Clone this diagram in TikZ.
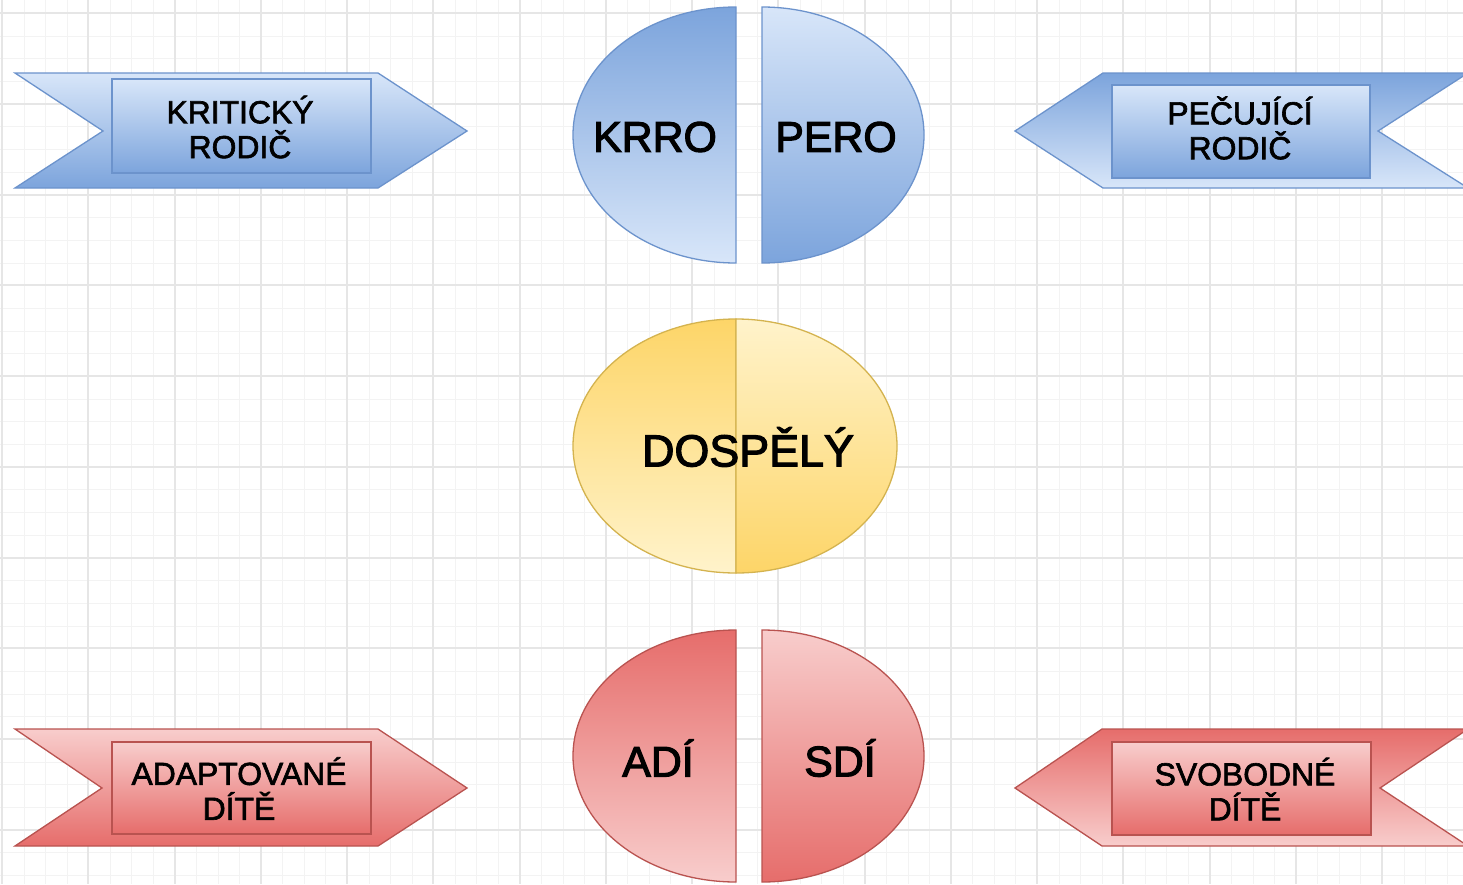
\documentclass[tikz,border=0pt]{standalone}
\usepackage{fontspec}
\setmainfont{Liberation Sans}
\newfontfamily\heavyfont{Liberation Sans}[FakeBold=2]
\newfontfamily\heavierfont{Liberation Sans}[FakeBold=2.6]
\definecolor{bluL}{HTML}{D8E6F9}
\definecolor{bluD}{HTML}{7CA4DC}
\definecolor{bluB}{HTML}{6C93CC}
\definecolor{redL}{HTML}{F8CDCC}
\definecolor{redD}{HTML}{E66D6B}
\definecolor{redB}{HTML}{B95350}
\definecolor{yelL}{HTML}{FFF3CB}
\definecolor{yelD}{HTML}{FDD568}
\definecolor{yelB}{HTML}{D4B34F}
\definecolor{gridmin}{HTML}{F3F3F3}
\definecolor{gridmaj}{HTML}{E6E6E6}
\begin{document}
\begin{tikzpicture}[x=1bp,y=-1bp,
  bdown/.style={draw=bluB,line width=1.3bp,top color=bluL,bottom color=bluD},
  bup/.style={draw=bluB,line width=1.3bp,top color=bluD,bottom color=bluL},
  rdown/.style={draw=redB,line width=1.3bp,top color=redL,bottom color=redD},
  rup/.style={draw=redB,line width=1.3bp,top color=redD,bottom color=redL},
  ydown/.style={draw=yelB,line width=1.3bp,top color=yelL,bottom color=yelD},
  yup/.style={draw=yelB,line width=1.3bp,top color=yelD,bottom color=yelL},
  ribtext/.style={align=center,inner sep=0pt,font=\heavyfont\fontsize{32}{35}\selectfont},
  bigtext/.style={inner sep=0pt,font=\heavierfont\fontsize{43}{48}\selectfont},
]
\useasboundingbox (0,0) rectangle (1463,884);
\fill[white] (0,0) rectangle (1463,884);
% grid
\foreach \i in {0,...,67}{
  \draw[gridmin,line width=1bp] ({round(2+21.5625*\i)+0.5},0) -- ({round(2+21.5625*\i)+0.5},884);}
\foreach \i in {0,...,38}{
  \draw[gridmin,line width=1bp] (0,{round(13+22.6875*\i)+0.5}) -- (1463,{round(13+22.6875*\i)+0.5});}
\foreach \i in {0,...,16}{
  \draw[gridmaj,line width=2bp] ({round(2+86.25*\i)},0) -- ({round(2+86.25*\i)},884);}
\foreach \i in {0,...,9}{
  \draw[gridmaj,line width=2bp] (0,{round(13+90.75*\i)}) -- (1463,{round(13+90.75*\i)});}

% ribbons
\path[bdown] (15,73) -- (378,73) -- (467,131) -- (378,188) -- (15,188) -- (103,131) -- cycle;
\path[bdown] (112,79) rectangle (371,173);
\node[ribtext] (kr) at (240,127) {KRITICKÝ\\RODIČ};

\path[bup] (1015,131) -- (1103,73) -- (1468,73) -- (1378,131) -- (1468,188) -- (1103,188) -- cycle;
\path[bdown] (1112,85) rectangle (1370,178);
\node[ribtext] (pr) at (1240,128) {PEČUJÍCÍ\\RODIČ};

\path[rdown] (15,729) -- (378,729) -- (467,788) -- (378,846) -- (15,846) -- (102,788) -- cycle;
\path[rdown] (112,742) rectangle (371,834);
\node[ribtext] (ad) at (239,788.5) {ADAPTOVANÉ\\DÍTĚ};

\path[rup] (1015,788) -- (1102,729) -- (1468,729) -- (1380,788) -- (1468,846) -- (1102,846) -- cycle;
\path[rdown] (1112,742) rectangle (1371,835);
\node[ribtext] (sd) at (1245,789) {SVOBODNÉ\\DÍTĚ};

% top halves
\path[bup] (736,7) arc[start angle=270,end angle=90,x radius=163,y radius=128] -- cycle;
\path[bdown] (762,7) arc[start angle=-90,end angle=90,x radius=162,y radius=128] -- cycle;
\node[bigtext] (krro) at (655,137) {KRRO};
\node[bigtext] (pero) at (836,137) {PERO};

% middle
\path[yup] (736,319) arc[start angle=270,end angle=90,x radius=163,y radius=127] -- cycle;
\path[ydown] (736,319) arc[start angle=-90,end angle=90,x radius=161,y radius=127] -- cycle;
\node[bigtext,font=\heavierfont\fontsize{45}{50}\selectfont] (dos) at (748,447) {DOSPĚLÝ};

% bottom halves
\path[rup] (736,630) arc[start angle=270,end angle=90,x radius=163,y radius=126] -- cycle;
\path[rdown] (762,630) arc[start angle=-90,end angle=90,x radius=162,y radius=126] -- cycle;
\node[bigtext] (adi) at (658,758) {ADÍ};
\node[bigtext] (sdi) at (840,758) {SDÍ};
\end{tikzpicture}
\end{document}
